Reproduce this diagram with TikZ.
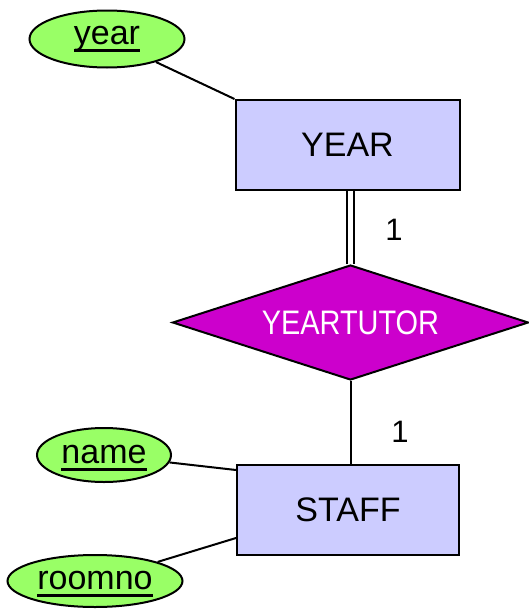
\documentclass[tikz,border=0pt]{standalone}
\usepackage{fontspec}
\setmainfont{Liberation Sans}
\usepackage{graphicx}
\usetikzlibrary{shapes.geometric}
\definecolor{attrgreen}{HTML}{99FF66}
\definecolor{entblue}{HTML}{CCCCFF}
\definecolor{relmag}{HTML}{CC00CC}
\newcommand\keyul[1]{\setbox0\hbox{#1}\rlap{\smash{\vrule width\wd0 height -4.5pt depth 7pt}}\box0}
\begin{document}
\begin{tikzpicture}[x=1pt,y=-1pt,
  every node/.style={font=\fontsize{34}{38}\selectfont},
  attr/.style={ellipse,draw=black,fill=attrgreen,line width=2pt,inner sep=0pt},
  entity/.style={rectangle,draw=black,fill=entblue,line width=2pt,inner sep=0pt,minimum width=224pt,minimum height=90pt},
  rel/.style={diamond,aspect=3.1,draw=black,fill=relmag,line width=2pt,inner sep=0pt,minimum width=356pt,minimum height=115pt,text=white},
  conn/.style={line width=2pt},
  card/.style={font=\fontsize{31}{34}\selectfont}]
\useasboundingbox (0,0) rectangle (529,613);
\node[entity] (year) at (347.5,145) {YEAR};
\node[entity,minimum width=222pt] (staff) at (348,510) {STAFF};
\node[rel] (yt) at (350.5,322.5) {\scalebox{0.85}[1]{YEARTUTOR}};
\node[attr,minimum width=155pt,minimum height=57pt] (ayear) at (107,39) {\keyul{year}};
\node[attr,minimum width=134pt,minimum height=54pt] (aname) at (104,455) {\keyul{name}};
\node[attr,minimum width=175pt,minimum height=52pt] (aroom) at (95,581) {\keyul{roomno}};
\draw[conn] (ayear) -- (year.north west);
\draw[conn] (aname) -- ([yshift=-6pt]staff.north west);
\draw[conn] (aroom) -- ([yshift=18pt]staff.south west);
\draw[line width=2pt,double=white,double distance=5.5pt] (yt.north) -- (yt.north |- year.south);
\draw[conn] (yt.south) -- (yt.south |- staff.north);
\node[card] (c1) at (394,230) {1};
\node[card] (c2) at (400,432) {1};
\end{tikzpicture}
\end{document}
